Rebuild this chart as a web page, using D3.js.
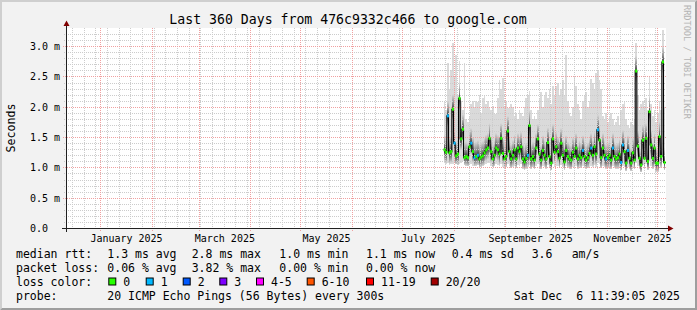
<!DOCTYPE html>
<html>
<head>
<meta charset="utf-8">
<script src="https://cdn.jsdelivr.net/npm/d3@7"></script>
<style>
  body { margin: 0; background: #fff; }
  svg text { font-family: "DejaVu Sans Mono", monospace; white-space: pre; }
</style>
</head>
<body>
<div id="chart"></div>
<script>
// ---- data ----

const graphStart = "2024-12-11 11:39:05";
const graphEnd = "2025-12-06 11:39:05";
const firstSample = "2025-07-26 00:00:00"; // one sample per day from here

// median rtt per day, in ms
const median = [
  1.29, 1.25, 1.85, 1.24, 1.26, 1.96, 1.40, 1.19, 1.22, 2.14,
  1.47, 1.63, 1.16, 1.18, 1.16, 1.34, 1.40, 1.26, 1.16, 1.18,
  1.20, 1.14, 1.17, 1.19, 1.24, 1.29, 1.32, 1.48, 1.26, 1.14,
  1.20, 1.32, 1.29, 1.22, 1.48, 1.23, 1.14, 1.18, 1.60, 1.26,
  1.14, 1.20, 1.29, 1.14, 1.32, 1.26, 1.34, 1.14, 1.09, 1.15,
  1.20, 1.69, 1.14, 1.18, 1.12, 1.32, 1.47, 1.22, 1.12, 1.28,
  1.20, 1.14, 1.41, 1.18, 1.07, 1.47, 1.25, 1.34, 1.26, 1.15,
  1.40, 1.20, 1.09, 1.28, 1.18, 1.14, 1.12, 1.25, 1.18, 1.32,
  1.14, 1.20, 1.16, 1.28, 1.18, 1.12, 1.16, 1.23, 1.32, 1.20,
  1.34, 1.22, 1.62, 1.45, 1.16, 1.32, 1.20, 1.14, 1.16, 1.20,
  1.12, 1.32, 1.18, 1.14, 1.16, 1.22, 1.08, 1.37, 1.26, 1.07,
  1.28, 1.15, 1.07, 1.24, 1.12, 2.59, 1.35, 1.15, 1.04, 1.45,
  1.15, 1.48, 1.10, 1.92, 1.37, 1.15, 1.32, 1.07, 1.07, 1.51,
  1.18, 2.74, 1.08
];

// lowest ping per day, in ms
const pingMin = [
  1.08, 1.06, 1.07, 1.04, 1.05, 1.06, 1.10, 1.05, 1.04, 1.06,
  1.08, 1.10, 1.04, 1.03, 1.02, 1.05, 1.06, 1.03, 1.02, 1.03,
  1.04, 1.00, 1.01, 1.03, 1.04, 1.06, 1.07, 1.08, 1.03, 1.00,
  1.02, 1.05, 1.04, 1.02, 1.06, 1.01, 0.99, 1.00, 1.05, 1.02,
  0.99, 1.01, 1.03, 0.99, 1.04, 1.02, 1.05, 0.98, 0.96, 0.98,
  1.00, 1.04, 0.98, 1.00, 0.97, 1.03, 1.05, 1.01, 0.97, 1.02,
  1.00, 0.98, 1.04, 1.00, 0.95, 1.06, 1.01, 1.03, 1.02, 0.99,
  1.04, 1.00, 0.96, 1.02, 0.99, 0.98, 0.97, 1.01, 0.99, 1.03,
  0.98, 1.00, 0.99, 1.02, 0.99, 0.97, 0.99, 1.01, 1.03, 1.00,
  1.04, 1.01, 1.08, 1.06, 0.99, 1.03, 1.00, 0.98, 0.99, 1.00,
  0.97, 1.02, 0.99, 0.98, 0.98, 1.00, 0.95, 1.03, 1.00, 0.94,
  1.01, 0.98, 0.94, 0.99, 0.97, 1.08, 1.02, 0.98, 0.92, 1.04,
  0.98, 1.05, 0.96, 1.10, 1.03, 0.98, 1.00, 0.93, 0.93, 1.05,
  0.99, 1.12, 0.95
];

// highest ping per day, in ms
const pingMax = [
  2.08, 1.95, 2.72, 2.30, 2.60, 3.05, 2.50, 2.85, 2.20, 2.76,
  2.10, 1.95, 2.72, 1.80, 1.75, 1.85, 2.05, 2.10, 2.00, 2.10,
  2.08, 2.20, 1.90, 2.15, 2.20, 2.05, 2.10, 2.00, 1.95, 2.02,
  1.90, 1.88, 2.15, 2.44, 2.30, 2.47, 2.00, 2.10, 1.98, 2.00,
  2.05, 2.00, 1.85, 1.90, 1.80, 1.95, 1.90, 1.85, 2.00, 2.15,
  2.20, 2.26, 1.95, 1.80, 1.85, 1.80, 1.95, 2.15, 2.25, 2.00,
  2.20, 2.25, 2.15, 2.30, 2.05, 2.35, 2.20, 2.35, 2.40, 2.20,
  2.30, 2.45, 2.20, 2.85, 2.10, 1.90, 1.85, 2.00, 2.50, 2.35,
  2.05, 1.95, 1.80, 2.10, 2.20, 2.25, 2.00, 2.10, 2.46, 2.40,
  2.30, 2.55, 2.60, 2.45, 2.30, 1.85, 1.80, 1.90, 1.75, 1.85,
  1.90, 1.80, 1.70, 1.75, 1.85, 1.70, 1.95, 2.05, 2.10, 1.80,
  1.70, 1.65, 1.75, 1.70, 1.80, 3.05, 2.20, 1.95, 2.05, 2.10,
  2.00, 2.15, 1.95, 2.50, 2.05, 1.85, 1.95, 1.75, 1.90, 2.10,
  1.95, 3.27, 2.00
];

// lost pings per day (out of 20)
const lost = [
  0, 0, 1, 0, 0, 0, 1, 0, 0, 0,
  0, 0, 0, 0, 0, 0, 1, 0, 1, 0,
  1, 0, 0, 0, 0, 0, 0, 0, 0, 0,
  0, 0, 0, 0, 0, 0, 0, 0, 0, 0,
  0, 0, 0, 0, 0, 0, 0, 0, 0, 0,
  1, 0, 0, 0, 0, 0, 0, 0, 0, 0,
  0, 0, 0, 0, 0, 0, 0, 0, 0, 0,
  0, 0, 0, 0, 0, 0, 0, 0, 0, 0,
  0, 0, 0, 1, 0, 0, 0, 0, 1, 0,
  0, 0, 1, 0, 0, 0, 0, 1, 0, 0,
  0, 1, 0, 0, 0, 0, 1, 1, 0, 0,
  1, 0, 0, 0, 0, 0, 0, 0, 0, 0,
  0, 0, 0, 0, 0, 0, 0, 0, 0, 0,
  0, 0, 0
];

const yTicks = [0, 0.5, 1.0, 1.5, 2.0, 2.5, 3.0];
const yTickLabels = ["0.0  ", "0.5 m", "1.0 m", "1.5 m", "2.0 m", "2.5 m", "3.0 m"];
const monthLabels = ["January 2025", "March 2025", "May 2025", "July 2025", "September 2025", "November 2025"];

const lossNames = ["0", "1", "2", "3", "4-5", "6-10", "11-19", "20/20"];
const lossColors = ["#26ff00", "#00b8ff", "#0059ff", "#7e00ff", "#ff00ff", "#ff5500", "#ff0000", "#a10000"];

const rttLegend = ["median rtt:", "1.3 ms avg", "2.8 ms max", "1.0 ms min", "1.1 ms now", "0.4 ms sd", "3.6", "am/s"];
const lossLegend = ["packet loss:", "0.06 % avg", "3.82 % max", "0.00 % min", "0.00 % now"];
const probeLegend = ["probe:", "20 ICMP Echo Pings (56 Bytes) every 300s"];
const stamp = "Sat Dec  6 11:39:05 2025";
const title = "Last 360 Days from 476c9332c466 to google.com";

// ---- layout ----
const W = 697, H = 310;
const plot = { left: 66, right: 666, top: 28, bottom: 228 };
const legendCols = [16, 107.3, 191.7, 279.3, 366, 451.7, 531.7, 571.7];
const swatchX = [108.3, 145.7, 182.7, 219.3, 256, 306.7, 366, 430.7];
const legendRows = [257.5, 271.5, 285.5, 299.5];

const parse = d3.timeParse("%Y-%m-%d %H:%M:%S");
const t0 = parse(graphStart), t1 = parse(graphEnd);
const s0 = parse(firstSample);
const days = median.map((d, i) => d3.timeDay.offset(s0, i));

const x = d3.scaleTime().domain([t0, t1]).range([plot.left, plot.right]);
const y = d3.scaleLinear().domain([0, 3.3]).range([plot.bottom, plot.top]);

const svg = d3.select("#chart").append("svg")
  .attr("width", W).attr("height", H);

// background and shaded frame
svg.append("rect").attr("width", W).attr("height", H).attr("fill", "#f2f2f2");
svg.append("path").attr("fill", "#cfcfcf")
  .attr("d", `M0,0H${W}L${W - 2},2H2V${H - 2}L0,${H}Z`);
svg.append("path").attr("fill", "#9e9e9e")
  .attr("d", `M${W},0V${H}H0L2,${H - 2}H${W - 2}V2Z`);

svg.append("rect")
  .attr("x", plot.left).attr("y", plot.top)
  .attr("width", plot.right - plot.left).attr("height", plot.bottom - plot.top)
  .attr("fill", "#fff");

// gradients for the smoke
const defs = svg.append("defs");
const up = defs.append("linearGradient").attr("id", "smokeUp")
  .attr("x1", 0).attr("y1", 1).attr("x2", 0).attr("y2", 0);
up.append("stop").attr("offset", 0).attr("stop-color", "#3a3a3a");
up.append("stop").attr("offset", 0.4).attr("stop-color", "#8e8e8e");
up.append("stop").attr("offset", 1).attr("stop-color", "#dadada");
const down = defs.append("linearGradient").attr("id", "smokeDown")
  .attr("x1", 0).attr("y1", 0).attr("x2", 0).attr("y2", 1);
down.append("stop").attr("offset", 0).attr("stop-color", "#3a3a3a");
down.append("stop").attr("offset", 0.5).attr("stop-color", "#8a8a8a");
down.append("stop").attr("offset", 1).attr("stop-color", "#d4d4d4");

// smoke: full min..max range in light grey, darker near the median
const smoke = svg.append("g").attr("shape-rendering", "crispEdges");
const colX = i => x(days[i]);
const colW = i => x(d3.timeDay.offset(days[i], 1)) - x(days[i]);
const upTop = (d, i) => Math.min(pingMax[i], d + 0.25);
const downBot = (d, i) => Math.max(pingMin[i], d - 0.18);

smoke.selectAll(".range").data(median).join("rect")
  .attr("x", (d, i) => colX(i)).attr("width", (d, i) => colW(i))
  .attr("y", (d, i) => y(pingMax[i]))
  .attr("height", (d, i) => y(pingMin[i]) - y(pingMax[i]))
  .attr("fill", "#dadada");

smoke.selectAll(".above").data(median).join("rect")
  .attr("x", (d, i) => colX(i)).attr("width", (d, i) => colW(i))
  .attr("y", (d, i) => y(upTop(d, i)))
  .attr("height", (d, i) => y(d) - y(upTop(d, i)))
  .attr("fill", "url(#smokeUp)");

smoke.selectAll(".below").data(median).join("rect")
  .attr("x", (d, i) => colX(i)).attr("width", (d, i) => colW(i))
  .attr("y", d => y(d))
  .attr("height", (d, i) => y(downBot(d, i)) - y(d))
  .attr("fill", "url(#smokeDown)");

// grid
const grid = svg.append("g").attr("shape-rendering", "crispEdges");
const weeks = d3.timeWeek.range(t0, t1);
const months = d3.timeMonth.range(t0, t1);
const minorY = d3.range(1, 33).map(d => d / 10).filter(d => Math.round(d * 10) % 5 !== 0);

grid.selectAll(".vmin").data(weeks).join("line")
  .attr("x1", d => Math.round(x(d)) + 0.5).attr("x2", d => Math.round(x(d)) + 0.5)
  .attr("y1", plot.top).attr("y2", plot.bottom + 2)
  .attr("stroke", "#cccccc").attr("stroke-dasharray", "1,1");
grid.selectAll(".hmin").data(minorY).join("line")
  .attr("x1", plot.left - 2).attr("x2", plot.right)
  .attr("y1", d => Math.round(y(d)) + 0.5).attr("y2", d => Math.round(y(d)) + 0.5)
  .attr("stroke", "#cccccc").attr("stroke-dasharray", "1,1");
grid.selectAll(".vmaj").data(months).join("line")
  .attr("x1", d => Math.round(x(d)) + 0.5).attr("x2", d => Math.round(x(d)) + 0.5)
  .attr("y1", plot.top).attr("y2", plot.bottom + 3)
  .attr("stroke", "#f0a0a0").attr("stroke-dasharray", "1,1");
grid.selectAll(".hmaj").data(yTicks.slice(1)).join("line")
  .attr("x1", plot.left - 3).attr("x2", plot.right)
  .attr("y1", d => Math.round(y(d)) + 0.5).attr("y2", d => Math.round(y(d)) + 0.5)
  .attr("stroke", "#f0a0a0").attr("stroke-dasharray", "1,1");

// median line and loss colour marks
const medLine = d3.line()
  .x(d => x(d[0])).y(d => y(d[1]))
  .curve(d3.curveStepAfter);
const pts = median.map((d, i) => [days[i], d]);
pts.push([t1, median[median.length - 1]]);
svg.append("path").datum(pts)
  .attr("fill", "none").attr("stroke", "#000").attr("stroke-width", 1.1)
  .attr("d", medLine);

svg.append("g").selectAll("rect").data(median).join("rect")
  .attr("x", (d, i) => colX(i)).attr("width", (d, i) => colW(i) + 0.4)
  .attr("y", d => y(d) - 1.5).attr("height", 3)
  .attr("fill", (d, i) => lossColors[lost[i]]);

// axes
const axisCol = "#202020";
svg.append("line")
  .attr("x1", plot.left - 4).attr("x2", plot.right + 4)
  .attr("y1", plot.bottom + 0.5).attr("y2", plot.bottom + 0.5)
  .attr("stroke", axisCol);
svg.append("line")
  .attr("x1", plot.left + 0.5).attr("x2", plot.left + 0.5)
  .attr("y1", plot.bottom + 4).attr("y2", plot.top - 4)
  .attr("stroke", axisCol);
svg.append("path").attr("fill", "#800000")
  .attr("d", `M${plot.right + 2},${plot.bottom - 2.5}L${plot.right + 2},${plot.bottom + 3.5}L${plot.right + 7.5},${plot.bottom + 0.5}Z`);
svg.append("path").attr("fill", "#800000")
  .attr("d", `M${plot.left - 2.5},${plot.top - 2}L${plot.left + 3.5},${plot.top - 2}L${plot.left + 0.5},${plot.top - 7.5}Z`);

const monthParse = d3.timeParse("%B %Y");
const labelDates = monthLabels.map(s => {
  const m = monthParse(s);
  return new Date((+m + +d3.timeMonth.offset(m, 1)) / 2);
});

const xAxis = svg.append("g")
  .attr("transform", `translate(0,${plot.bottom})`)
  .call(d3.axisBottom(x).tickValues(labelDates).tickSize(0)
    .tickFormat((d, i) => monthLabels[i]));
xAxis.select(".domain").remove();
xAxis.selectAll("text")
  .attr("y", 13.5).attr("dy", null)
  .attr("font-family", "DejaVu Sans Mono").attr("font-size", 10).attr("fill", "#000");

const yAxis = svg.append("g")
  .attr("transform", `translate(${plot.left},0)`)
  .call(d3.axisLeft(y).tickValues(yTicks).tickSize(0)
    .tickFormat((d, i) => yTickLabels[i]));
yAxis.select(".domain").remove();
yAxis.selectAll("text")
  .attr("x", -6).attr("dy", "0.35em")
  .attr("font-family", "DejaVu Sans Mono").attr("font-size", 10).attr("fill", "#000");

// titles
svg.append("text")
  .attr("x", 348).attr("y", 23.5)
  .attr("text-anchor", "middle")
  .style("font-size", "13.2px")
  .text(title);

svg.append("text")
  .attr("transform", `translate(15,${(plot.top + plot.bottom) / 2}) rotate(-90)`)
  .attr("text-anchor", "middle")
  .style("font-size", "11.6px")
  .text("Seconds");

svg.append("text")
  .attr("transform", "translate(684,5) rotate(90)")
  .style("font-size", "8.6px")
  .style("fill", "#b4b4b4")
  .text("RRDTOOL / TOBI OETIKER");

// legend
const legend = svg.append("g").style("font-size", "11.5px").style("fill", "#000");

legend.selectAll(".rtt").data(rttLegend).join("text")
  .attr("x", (d, i) => legendCols[i]).attr("y", legendRows[0]).text(d => d);
legend.selectAll(".loss").data(lossLegend).join("text")
  .attr("x", (d, i) => legendCols[i]).attr("y", legendRows[1]).text(d => d);

legend.append("text").attr("x", legendCols[0]).attr("y", legendRows[2]).text("loss color:");
legend.selectAll(".sw").data(lossColors).join("rect")
  .attr("x", (d, i) => swatchX[i] + 0.5).attr("y", legendRows[2] - 7.5)
  .attr("width", 7).attr("height", 7)
  .attr("fill", d => d).attr("stroke", "#000");
legend.selectAll(".swl").data(lossNames).join("text")
  .attr("x", (d, i) => swatchX[i] + 15).attr("y", legendRows[2]).text(d => d);

legend.selectAll(".probe").data(probeLegend).join("text")
  .attr("x", (d, i) => legendCols[i]).attr("y", legendRows[3]).text(d => d);
legend.append("text")
  .attr("x", 680).attr("y", legendRows[3]).attr("text-anchor", "end")
  .text(stamp);
</script>
</body>
</html>
